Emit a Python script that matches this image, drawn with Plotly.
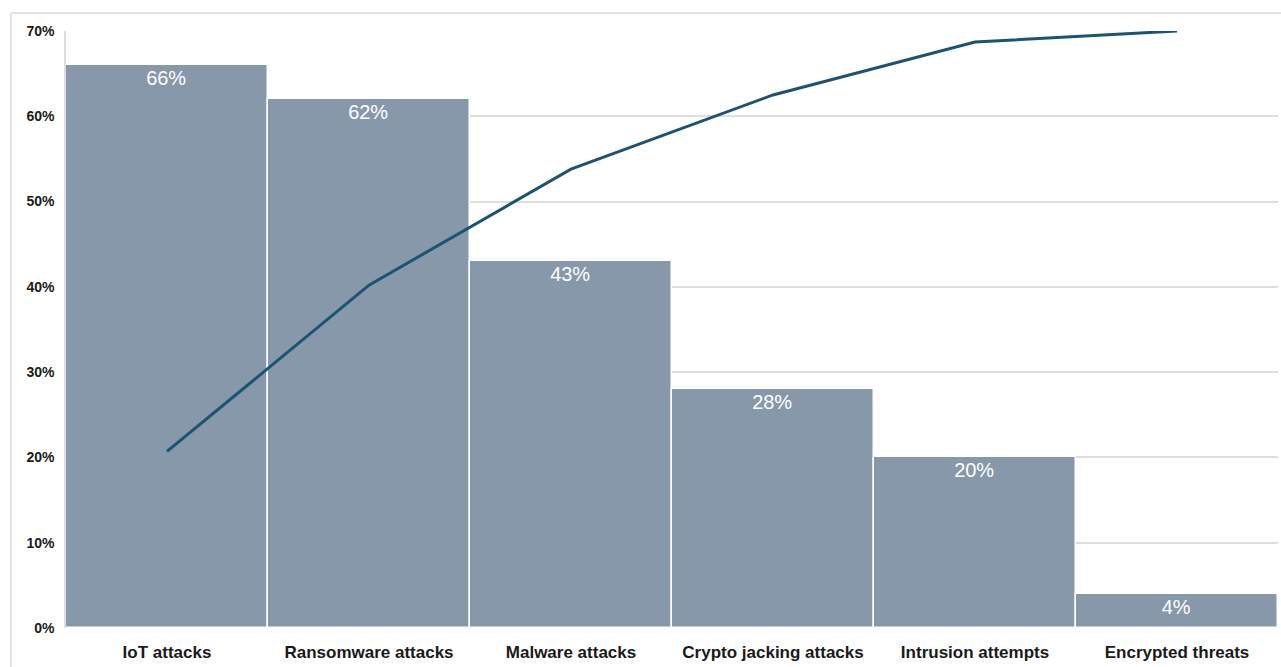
import plotly.graph_objects as go

categories = ["IoT attacks", "Ransomware attacks", "Malware attacks",
              "Crypto jacking attacks", "Intrusion attempts", "Encrypted threats"]
bar_values = [66, 62, 43, 28, 20, 4]
line_values = [20.7, 40.2, 53.8, 62.5, 68.7, 70.0]
tick_vals = [0, 10, 20, 30, 40, 50, 60, 70]
tick_text = ["0%", "10%", "20%", "30%", "40%", "50%", "60%", "70%"]

fig = go.Figure()
fig.add_trace(go.Bar(
    x=categories, y=bar_values,
    text=[f"{v}%" for v in bar_values],
    textposition="inside", insidetextanchor="end",
    textfont=dict(family="Liberation Sans, Arial", size=20, color="white"),
    marker=dict(color="#8698aa", line=dict(color="white", width=1.5)),
    hoverinfo="skip", showlegend=False,
))
fig.add_trace(go.Scatter(
    x=categories, y=line_values, mode="lines",
    line=dict(color="#1b5473", width=3),
    showlegend=False,
))

fig.update_layout(
    width=1281, height=667,
    margin=dict(l=66, r=3, t=31, b=39),
    plot_bgcolor="white", paper_bgcolor="white",
    bargap=0,
    font=dict(family="Liberation Sans, Arial", color="#1a1a1a"),
    xaxis=dict(showgrid=False, showline=False, ticks="",
               tickfont=dict(size=17, family="Liberation Sans, Arial", weight="bold"),
               ticklabelstandoff=12),
    yaxis=dict(range=[0, 70], tickvals=tick_vals, ticktext=tick_text,
               showgrid=True, gridcolor="#dedede", gridwidth=1.5,
               showline=True, linecolor="#dedede", linewidth=1.5,
               zeroline=False, ticks="",
               tickfont=dict(size=14, family="Liberation Sans, Arial", weight="bold"),
               ticklabelstandoff=7),
    shapes=[
        dict(type="line", xref="paper", yref="paper",
             x0=(11-66)/1212, x1=1.01, y0=1+(31-13)/597, y1=1+(31-13)/597,
             line=dict(color="#e3e3e3", width=2)),
        dict(type="line", xref="paper", yref="paper",
             x0=(11-66)/1212, x1=(11-66)/1212, y0=1+(31-13)/597, y1=-0.1,
             line=dict(color="#e3e3e3", width=2)),
    ],
)

fig.write_html("out.html")
